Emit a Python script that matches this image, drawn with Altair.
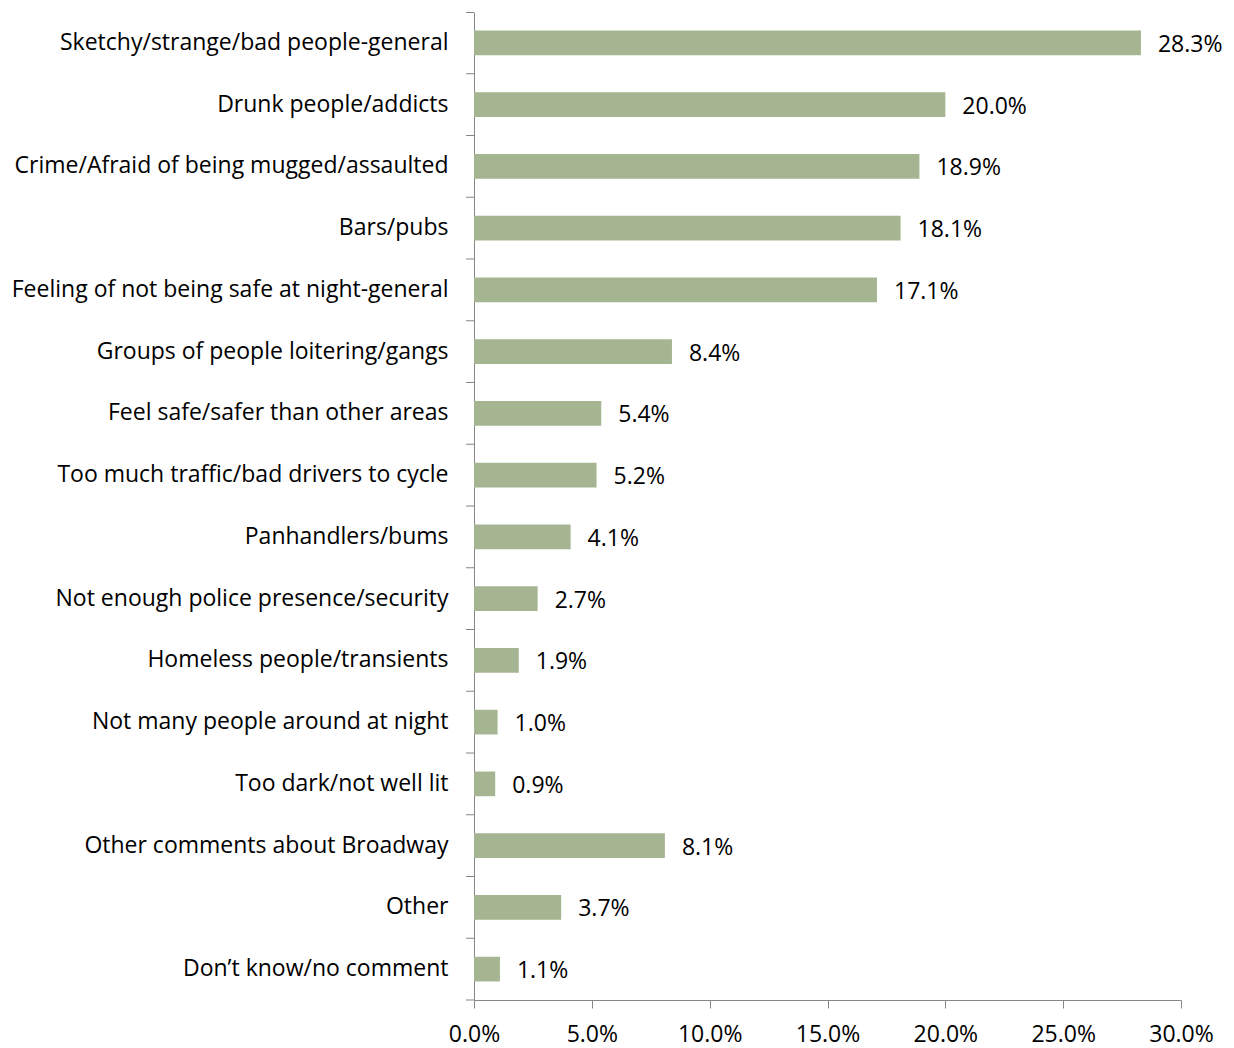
import altair as alt
import pandas as pd

categories = [
    "Sketchy/strange/bad people-general",
    "Drunk people/addicts",
    "Crime/Afraid of being mugged/assaulted",
    "Bars/pubs",
    "Feeling of not being safe at night-general",
    "Groups of people loitering/gangs",
    "Feel safe/safer than other areas",
    "Too much traffic/bad drivers to cycle",
    "Panhandlers/bums",
    "Not enough police presence/security",
    "Homeless people/transients",
    "Not many people around at night",
    "Too dark/not well lit",
    "Other comments about Broadway",
    "Other",
    "Don\u2019t know/no comment",
]
values = [28.3, 20.0, 18.9, 18.1, 17.1, 8.4, 5.4, 5.2, 4.1, 2.7, 1.9, 1.0, 0.9, 8.1, 3.7, 1.1]

df = pd.DataFrame({"cat": categories, "val": [v / 100 for v in values]})

FONT = "Open Sans"
FS = 23
AXC = "#868686"
H = 988
STEP = H / 16.0

yenc = alt.Y("cat:N", sort=categories, title=None,
             scale=alt.Scale(paddingInner=0.6, paddingOuter=0.3),
             axis=alt.Axis(labelFont=FONT, labelFontSize=FS, labelColor="#000000",
                           labelPadding=26, domainColor=AXC, ticks=False,
                           labelLimit=600))

base = alt.Chart(df).encode(y=yenc)

bars = base.mark_bar(color="#A5B592").encode(
    x=alt.X("val:Q", title=None,
            scale=alt.Scale(domain=[0, 0.3], nice=False),
            axis=alt.Axis(format=".1%", values=[0, 0.05, 0.1, 0.15, 0.2, 0.25, 0.3],
                          labelFont=FONT, labelFontSize=FS, labelColor="#000000",
                          labelPadding=15, labelFlush=False, domainColor=AXC,
                          tickColor=AXC, tickSize=8, grid=False)),
)

labels = base.mark_text(align="left", baseline="middle", dx=17, dy=2,
                        font=FONT, fontSize=FS, color="#000000").encode(
    x="val:Q",
    text=alt.Text("val:Q", format=".1%"),
)

band_ticks = base.mark_rule(color=AXC, strokeWidth=1, yOffset=STEP / 2).encode(
    x=alt.value(-8), x2=alt.value(0)
)

top_tick = alt.Chart(df).mark_rule(color=AXC, strokeWidth=1).encode(
    x=alt.value(-8), x2=alt.value(0), y=alt.value(0.5)
)

chart = (bars + labels + band_ticks + top_tick).properties(
    width=707, height=H,
    autosize=alt.AutoSizeParams(type="none"),
    padding={"left": 466, "top": 4, "right": 45, "bottom": 52},
).configure(background="white").configure_view(stroke=None)

chart.save("out.html", embed_options={"renderer": "svg", "actions": False})
